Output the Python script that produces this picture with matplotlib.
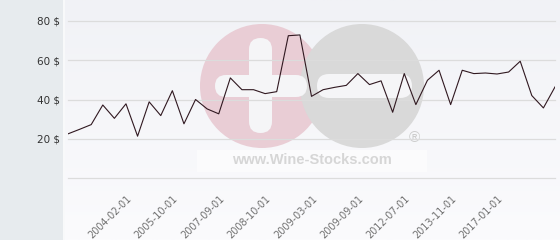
import numpy as np
import matplotlib
matplotlib.use("Agg")
import matplotlib.pyplot as plt
import matplotlib.transforms as mtransforms
from matplotlib.patches import Circle, FancyBboxPatch, Rectangle

# price history, one value per listed date
prices = [22.5, 24.8, 27.2, 37.2, 30.4, 37.8, 21.3, 38.8, 31.8, 44.5,
          27.6, 40.0, 35.2, 32.7, 51.0, 45.0, 45.0, 43.0, 44.0, 72.5,
          72.9, 41.6, 45.0, 46.2, 47.2, 53.2, 47.6, 49.5, 33.5, 53.2,
          37.4, 49.8, 54.9, 37.4, 54.9, 53.2, 53.5, 53.0, 54.0, 59.5,
          42.0, 35.7, 46.4]
tick_idx = [5, 9, 13, 17, 21, 25, 29, 33, 37]
tick_labels = ["2004-02-01", "2005-10-01", "2007-09-01", "2008-10-01",
               "2009-03-01", "2009-09-01", "2012-07-01", "2013-11-01",
               "2017-01-01"]
y_ticks = [20, 40, 60, 80]

W, H = 560, 240
fig = plt.figure(figsize=(W / 100, H / 100), dpi=100)
fig.patch.set_facecolor("#e7ebee")

# background: plot panel gradient
bg = fig.add_axes([63 / W, 0, 1 - 63 / W, 1])
grad = np.linspace(0, 1, 100).reshape(-1, 1)
top = np.array([241, 242, 246]) / 255
bot = np.array([251, 251, 253]) / 255
img = top + (bot - top) * grad[..., None]
bg.imshow(img, aspect="auto", extent=[0, 1, 0, 1], origin="upper")
bg.set_xlim(0, 1)
bg.set_ylim(0, 1)
bg.axis("off")
fig.add_artist(Rectangle((63 / W, 0), 1.5 / W, 1, transform=fig.transFigure,
                         color="#f8f9fa", lw=0))

# watermark layer, in pixel coords
wm = fig.add_axes([0, 0, 1, 1])
wm.set_xlim(0, W)
wm.set_ylim(H, 0)
wm.axis("off")
wm.add_patch(Rectangle((197, 150), 230, 22, color="#fdfdfd", lw=0, alpha=0.8))
wm.add_patch(Circle((262, 86), 62, color="#e9cdd5", lw=0))
wm.add_patch(Circle((362, 86), 62, color="#d9d9d9", lw=0))
wm.add_patch(FancyBboxPatch((249, 38), 23, 95, boxstyle="round,pad=0,rounding_size=11.5",
                            color="#f5f5f7", lw=0))
wm.add_patch(FancyBboxPatch((215, 75), 92, 22, boxstyle="round,pad=0,rounding_size=11",
                            color="#f5f5f7", lw=0))
wm.add_patch(FancyBboxPatch((317, 74), 95, 24, boxstyle="round,pad=0,rounding_size=12",
                            color="#f5f5f7", lw=0))
wm.text(414, 138, "®", fontsize=11, color="#cccccc", ha="center", va="center",
        family="Liberation Sans")
wm.text(312, 160, "www.Wine-Stocks.com", fontsize=10.5, fontweight="bold",
        color="#d6d6d6", ha="center", va="center", family="Liberation Sans")

# main chart
ax = fig.add_axes([68 / W, 1 - 178 / H, (555 - 68) / W, (178 - 21) / H])
ax.patch.set_alpha(0)
x = np.arange(len(prices))
ax.plot(x, prices, color="#301820", lw=0.8)
ax.set_xlim(0, len(prices) - 1)
ax.set_ylim(0, 80)
ax.set_yticks([0] + y_ticks)
ax.set_yticklabels([""] + ["{} $".format(v) for v in y_ticks])
ax.grid(axis="y", color="#dcdcdc", lw=0.9)
for gl in ax.get_ygridlines():
    gl.set_clip_on(False)
ax.set_axisbelow(True)
for s in ax.spines.values():
    s.set_visible(False)
ax.tick_params(axis="y", length=0, pad=6, labelsize=7.5, labelcolor="#333333")
ax.set_xticks(tick_idx)
ax.set_xticklabels(tick_labels, rotation=45, ha="right", rotation_mode="anchor",
                   va="center")
ax.tick_params(axis="x", length=0, pad=14, labelsize=7, labelcolor="#707070")
shift = mtransforms.ScaledTranslation(4 / 100, 0, fig.dpi_scale_trans)
for lab in ax.get_xticklabels():
    lab.set_transform(lab.get_transform() + shift)

fig.savefig("out.png", dpi=100)
